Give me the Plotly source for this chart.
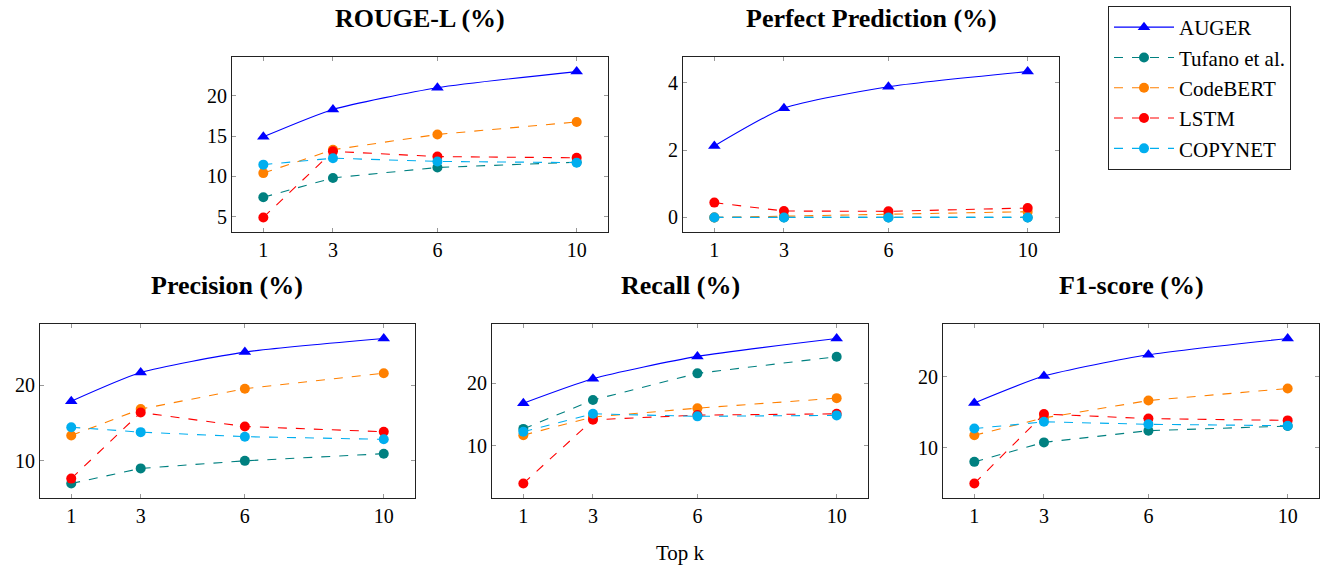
import plotly.graph_objects as go

top_k = [1, 3, 6, 10]
series_names = ["AUGER", "Tufano et al.", "CodeBERT", "LSTM", "COPYNET"]

# ROUGE-L (%)
rouge_auger = [14.9, 18.3, 21.0, 23.0]
rouge_tufano = [7.4, 9.8, 11.1, 11.75]
rouge_codebert = [10.4, 13.3, 15.2, 16.75]
rouge_lstm = [4.9, 13.1, 12.45, 12.3]
rouge_copynet = [11.45, 12.25, 11.85, 11.7]

# Perfect Prediction (%)
pp_auger = [2.12, 3.24, 3.88, 4.33]
pp_tufano = [0.0, 0.0, 0.0, 0.0]
pp_codebert = [0.0, 0.04, 0.09, 0.17]
pp_lstm = [0.44, 0.19, 0.18, 0.28]
pp_copynet = [0.0, 0.0, 0.0, 0.0]

# Precision (%)
prec_auger = [17.9, 21.7, 24.4, 26.2]
prec_tufano = [7.0, 9.0, 10.0, 10.95]
prec_codebert = [13.35, 16.85, 19.55, 21.6]
prec_lstm = [7.65, 16.4, 14.55, 13.85]
prec_copynet = [14.45, 13.8, 13.2, 12.85]

# Recall (%)
rec_auger = [16.8, 20.7, 24.25, 27.1]
rec_tufano = [12.7, 17.3, 21.55, 24.2]
rec_codebert = [11.7, 14.6, 16.0, 17.6]
rec_lstm = [4.0, 14.15, 14.9, 15.1]
rec_copynet = [12.25, 15.1, 14.7, 14.85]

# F1-score (%)
f1_auger = [16.3, 20.1, 23.1, 25.4]
f1_tufano = [8.0, 10.75, 12.4, 13.05]
f1_codebert = [11.75, 14.2, 16.65, 18.35]
f1_lstm = [4.95, 14.75, 14.1, 13.85]
f1_copynet = [12.7, 13.65, 13.3, 13.1]

panels = [
    ("ROUGE-L (%)", [rouge_auger, rouge_tufano, rouge_codebert, rouge_lstm, rouge_copynet], [5, 10, 15, 20]),
    ("Perfect Prediction (%)", [pp_auger, pp_tufano, pp_codebert, pp_lstm, pp_copynet], [0, 2, 4]),
    ("Precision (%)", [prec_auger, prec_tufano, prec_codebert, prec_lstm, prec_copynet], [10, 20]),
    ("Recall (%)", [rec_auger, rec_tufano, rec_codebert, rec_lstm, rec_copynet], [10, 20]),
    ("F1-score (%)", [f1_auger, f1_tufano, f1_codebert, f1_lstm, f1_copynet], [10, 20]),
]

colors = ["rgb(0,0,255)", "rgb(0,128,128)", "rgb(255,128,0)", "rgb(255,0,0)", "rgb(0,174,239)"]

W, H = 1322, 573
# pixel boxes (left, right, top, bottom)
boxes = [
    (232, 608, 57, 232),
    (683, 1059, 57, 232),
    (40, 415, 324, 498),
    (492, 868, 324, 498),
    (943, 1319, 324, 498),
]
title_y = [18, 18, 285, 285, 285]

FONT = "Liberation Serif"
fig = go.Figure()
layout = {}
annotations = []
for i, (title, data, yticks) in enumerate(panels):
    sfx = "" if i == 0 else str(i + 1)
    for j, (name, vals) in enumerate(zip(series_names, data)):
        is_auger = j == 0
        fig.add_trace(go.Scatter(
            x=top_k, y=vals, name=name,
            mode="lines+markers",
            line=dict(color=colors[j], width=1.1,
                      dash="solid" if is_auger else "dash",
                      shape="spline" if is_auger else "linear",
                      smoothing=0.6),
            marker=dict(color=colors[j],
                        symbol="triangle-up" if is_auger else "circle",
                        size=11 if is_auger else 10, line=dict(width=0)),
            xaxis="x" + sfx, yaxis="y" + sfx,
            showlegend=(i == 0),
        ))
    l, r, t, b = boxes[i]
    allv = [v for s in data for v in s]
    lo, hi = min(allv), max(allv)
    pad = 0.1 * (hi - lo)
    xpad = 0.1 * (max(top_k) - min(top_k))
    axis_common = dict(
        showline=True, linecolor="#222", linewidth=1, mirror="ticks",
        ticks="inside", ticklen=4, tickcolor="#999", tickwidth=1,
        showgrid=False, zeroline=False,
        tickfont=dict(family=FONT, size=20, color="black"),
    )
    layout["xaxis" + sfx] = dict(
        domain=[l / W, r / W], anchor="y" + sfx,
        range=[min(top_k) - xpad, max(top_k) + xpad],
        tickvals=top_k, ticktext=[str(k) for k in top_k], **axis_common)
    layout["yaxis" + sfx] = dict(
        domain=[1 - b / H, 1 - t / H], anchor="x" + sfx,
        range=[lo - pad, hi + pad],
        tickvals=yticks, ticktext=[str(v) for v in yticks], **axis_common)
    annotations.append(dict(
        text="<b>" + title + "</b>", x=(l + r) / 2 / W, y=1 - title_y[i] / H,
        xref="paper", yref="paper", showarrow=False,
        xanchor="center", yanchor="middle",
        font=dict(family=FONT, size=26, color="black")))

annotations.append(dict(
    text="Top k", x=680 / W, y=1 - 553 / H, xref="paper", yref="paper",
    showarrow=False, xanchor="center", yanchor="middle",
    font=dict(family=FONT, size=21, color="black")))

fig.update_layout(
    width=W, height=H,
    margin=dict(l=0, r=0, t=0, b=0),
    paper_bgcolor="white", plot_bgcolor="white",
    annotations=annotations,
    hovermode=False,
    legend=dict(
        x=1108 / W, y=1 - 6 / H, xanchor="left", yanchor="top",
        bordercolor="#222", borderwidth=1, bgcolor="white",
        font=dict(family=FONT, size=21, color="black"),
        itemwidth=60, tracegroupgap=0,
    ),
    **layout,
)

fig.write_html("out.html", config={"displayModeBar": False},
               post_script="document.body.style.margin='0';document.body.style.overflow='hidden';")
